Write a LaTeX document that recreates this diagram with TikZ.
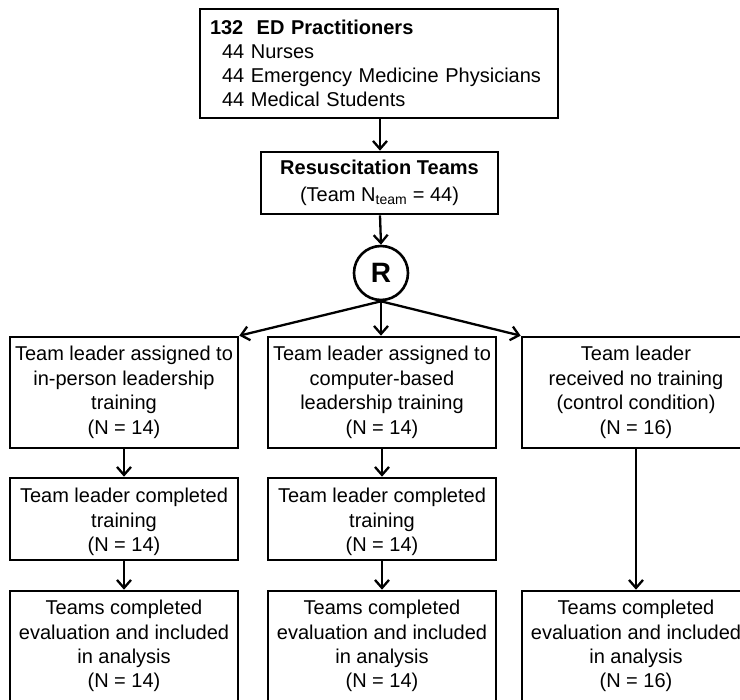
\documentclass[tikz,border=0pt]{standalone}
\usepackage{fontspec}
\setmainfont{Liberation Sans}
\usetikzlibrary{arrows.meta}
\begin{document}
\begin{tikzpicture}[x=1pt,y=-1pt,
 box/.style={draw,line width=2.6pt,rectangle,inner sep=0pt,align=center,
   font=\fontsize{20}{24.5}\selectfont},
 txt/.style={inner sep=0pt,align=center,font=\fontsize{20}{24.2}\selectfont},
 arr/.style={line width=2.3pt,-{Straight Barb[length=8pt,width=14pt,line width=2.3pt]}},
]
\useasboundingbox (0,0) rectangle (740,700);
\clip (0,0) rectangle (740,700);

\node[box,minimum width=358pt,minimum height=109pt,text width=338pt,align=left,
  font=\fontsize{20}{24}\selectfont] (top) at (379,63.5)
  {\textbf{132\ \ ED Practitioners}\\
   \hspace*{12pt}44 Nurses\\
   \hspace*{12pt}44 Emergency Medicine Physicians\\
   \hspace*{12pt}44 Medical Students};

\node[box,minimum width=237pt,minimum height=62pt,font=\fontsize{20}{27}\selectfont] (res) at (379.5,183)
  {\textbf{Resuscitation Teams}\\(Team N\textsubscript{team} = 44)};

\node[draw,circle,line width=2.6pt,minimum size=54pt,inner sep=0pt,
  font=\fontsize{28}{30}\selectfont\bfseries] (R) at (381,273) {R};

\node[box,minimum width=228pt,minimum height=111pt] (L1) at (124,392.5)
  {Team leader assigned to\\in-person leadership\\training\\(N = 14)};
\node[box,minimum width=228pt,minimum height=111pt] (M1) at (382,392.5)
  {Team leader assigned to\\computer-based\\leadership training\\(N = 14)};
\node[box,minimum width=228pt,minimum height=111pt] (R1) at (636,392.5)
  {Team leader\\received no training\\(control condition)\\(N = 16)};

\node[box,minimum width=228pt,minimum height=82pt] (L2) at (124,519) {};
\node[txt] (L2t) at (124,522) {Team leader completed\\training\\(N = 14)};
\node[box,minimum width=228pt,minimum height=82pt] (M2) at (382,519) {};
\node[txt] (M2t) at (382,522) {Team leader completed\\training\\(N = 14)};

\node[box,minimum width=228pt,minimum height=114pt] (L3) at (124,648) {};
\node[txt] (L3t) at (124,646) {Teams completed\\evaluation and included\\in analysis\\(N = 14)};
\node[box,minimum width=228pt,minimum height=114pt] (M3) at (382,648) {};
\node[txt] (M3t) at (382,646) {Teams completed\\evaluation and included\\in analysis\\(N = 14)};
\node[box,minimum width=228pt,minimum height=114pt] (R3) at (636,648) {};
\node[txt] (R3t) at (636,646) {Teams completed\\evaluation and included\\in analysis\\(N = 16)};

\draw[arr] (top.south -| 380,0) -- (res.north -| 380,0);
\draw[arr] (res.south -| 380,0) -- (R.north);
\draw[arr] (R.south) -- (L1.north east);
\draw[arr] (R.south) -- (M1.north -| R.south);
\draw[arr] (R.south) -- (R1.north west);
\draw[arr] (L1.south) -- (L2.north);
\draw[arr] (M1.south) -- (M2.north);
\draw[arr] (L2.south) -- (L3.north);
\draw[arr] (M2.south) -- (M3.north);
\draw[arr] (R1.south) -- (R3.north);
\end{tikzpicture}
\end{document}
